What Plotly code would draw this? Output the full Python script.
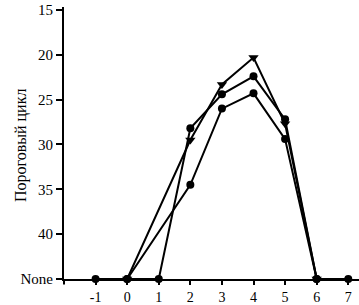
import plotly.graph_objects as go

NONE_Y = 45  # position of the "None" level (undetected)

# Series values (None = not detected)
x_a = [0, 2, 3, 4, 5, 6]
y_a = [None, 29.5, 23.3, 20.3, 27.7, None]

x_b = [-1, 0, 1, 2, 3, 4, 5, 6, 7]
y_b = [None, None, None, 28.2, 24.4, 22.4, 27.2, None, None]

x_c = [0, 2, 3, 4, 5, 6]
y_c = [None, 34.5, 26.0, 24.3, 29.4, None]

x_ticks = [-1, 0, 1, 2, 3, 4, 5, 6, 7]
x_tick_text = ["-1", "0", "1", "2", "3", "4", "5", "6", "7"]
y_ticks = [15, 20, 25, 30, 35, 40, NONE_Y]
y_tick_text = ["15", "20", "25", "30", "35", "40", "None"]
y_title = "Пороговый цикл"


def fill(vals):
    return [NONE_Y if v is None else v for v in vals]


fig = go.Figure()
fig.add_trace(go.Scatter(x=x_a, y=fill(y_a), mode="lines+markers",
                         line=dict(color="black", width=2),
                         marker=dict(symbol="triangle-down", size=9, color="black"),
                         cliponaxis=False))
fig.add_trace(go.Scatter(x=x_c, y=fill(y_c), mode="lines+markers",
                         line=dict(color="black", width=2),
                         marker=dict(symbol="circle", size=8, color="black"),
                         cliponaxis=False))
fig.add_trace(go.Scatter(x=x_b, y=fill(y_b), mode="lines+markers",
                         line=dict(color="black", width=2),
                         marker=dict(symbol="circle", size=8, color="black"),
                         cliponaxis=False))

font = dict(family="Liberation Serif, Times New Roman, serif", size=15, color="black")
xfont = dict(family="Liberation Serif, Times New Roman, serif", size=14, color="black")
title_font = dict(family="Liberation Serif, Times New Roman, serif", size=16, color="black")

fig.update_layout(
    width=359, height=305,
    margin=dict(l=64, r=0, t=7, b=26, pad=0, autoexpand=False),
    plot_bgcolor="white", paper_bgcolor="white",
    showlegend=False,
    font=font,
    xaxis=dict(range=[-2.0, 7.34], tickvals=x_ticks, ticktext=x_tick_text,
               showgrid=False, zeroline=False, automargin=False,
               showline=True, linecolor="black", linewidth=2,
               ticks="outside", ticklen=4, tickwidth=1.5, tickcolor="black",
               tickfont=xfont),
    yaxis=dict(range=[NONE_Y, 14.67], tickvals=y_ticks, ticktext=y_tick_text,
               showgrid=False, zeroline=False, automargin=False,
               showline=True, linecolor="black", linewidth=2,
               ticks="outside", ticklen=6, tickwidth=1.5, tickcolor="black",
               tickfont=font),
    annotations=[dict(text=y_title, xref="paper", yref="paper", x=-0.148, y=0.49,
                      xanchor="center", yanchor="middle", textangle=-90,
                      showarrow=False, font=title_font)],
    shapes=[dict(type="line", xref="paper", yref="paper", x0=0, x1=0,
                 y0=0, y1=-0.02, line=dict(color="black", width=2))],
)

fig.write_html("out.html", config={"displayModeBar": False},
               post_script="document.body.style.margin='0';")
